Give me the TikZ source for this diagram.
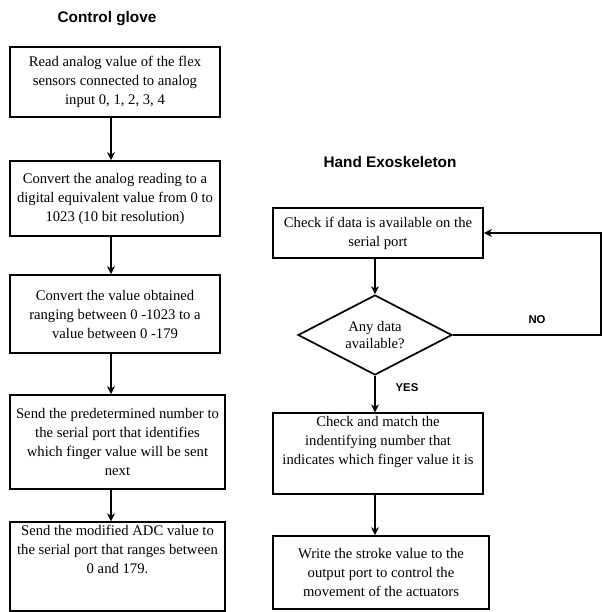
\documentclass[tikz,border=0pt]{standalone}
\usepackage{fontspec}
\setmainfont{Liberation Serif}
\newfontfamily\titlefont{Liberation Sans}
\usetikzlibrary{shapes.geometric,arrows.meta}
\tikzset{
  box/.style={draw, line width=1.3pt, align=center, inner sep=2pt, font=\fontsize{11}{14.25}\selectfont},
  decision/.style={draw, diamond, line width=1.3pt, align=center, inner sep=0pt, aspect=1.9, font=\fontsize{11}{13}\selectfont},
  flow/.style={line width=1.2pt, -{Stealth[length=6pt,width=6pt]}},
  title/.style={font=\titlefont\bfseries\fontsize{11.5}{13}\selectfont},
  tag/.style={font=\titlefont\bfseries\fontsize{8.5}{10}\selectfont}
}
\begin{document}
\begin{tikzpicture}[x=0.75pt,y=-0.75pt]
\useasboundingbox (0,0) rectangle (603,612);
% titles
\node[title] (t1) at (107,19) {Control glove};
\node[title] (t2) at (390,162) {Hand Exoskeleton};
% left column
\node[box, minimum width=210*0.75pt, minimum height=70*0.75pt] (b1) at (115,82)
  {Read analog value of the flex\\sensors connected to analog\\input 0, 1, 2, 3, 4};
\node[box, minimum width=210*0.75pt, minimum height=75*0.75pt] (b2) at (115,198.5)
  {Convert the analog reading to a\\digital equivalent value from 0 to\\1023 (10 bit resolution)};
\node[box, minimum width=210*0.75pt, minimum height=78*0.75pt] (b3) at (115,314)
  {Convert the value obtained\\ranging between 0 -1023 to a\\value between 0 -179};
\node[box, minimum width=215*0.75pt, minimum height=94*0.75pt] (b4) at (117.5,442)
  {Send the predetermined number to\\the serial port that identifies\\which finger value will be sent\\next};
\node[box, minimum width=215*0.75pt, minimum height=87*0.75pt] (b5) at (117.5,566.5)
  {Send the modified ADC value to\\the serial port that ranges between\\0 and 179.\\[12pt]};
\coordinate (lx) at (111,0);
\draw[flow] (b1.south -| lx) -- (b2.north -| lx);
\draw[flow] (b2.south -| lx) -- (b3.north -| lx);
\draw[flow] (b3.south -| lx) -- (b4.north -| lx);
\draw[flow] (b4.south -| lx) -- (b5.north -| lx);
% right column
\node[box, minimum width=210*0.75pt, minimum height=50*0.75pt] (r1) at (378,233)
  {Check if data is available on the\\serial port};
\node[decision, minimum width=154*0.75pt, minimum height=80*0.75pt] (d1) at (375,335)
  {Any data\\available?};
\node[box, minimum width=210*0.75pt, minimum height=77*0.75pt] (r2) at (378,453.5)
  {Check and match the\\indentifying number that\\indicates which finger value it is\\[6pt]};
\node[box, minimum width=216*0.75pt, minimum height=73*0.75pt] (r3) at (381,572.5)
  {Write the stroke value to the\\output port to control the\\movement of the actuators};
\coordinate (rx) at (375,0);
\coordinate (loopx) at (601,0);
\draw[flow] (r1.south -| rx) -- (d1.north);
\draw[flow] (d1.south) -- (r2.north -| rx);
\draw[flow] (r2.south -| rx) -- (r3.north -| rx);
\draw[flow] (d1.east) -- (d1.east -| loopx) |- (r1.east);
\node[tag] (no) at (537,320) {NO};
\node[tag] (yes) at (407,388) {YES};
\end{tikzpicture}
\end{document}
